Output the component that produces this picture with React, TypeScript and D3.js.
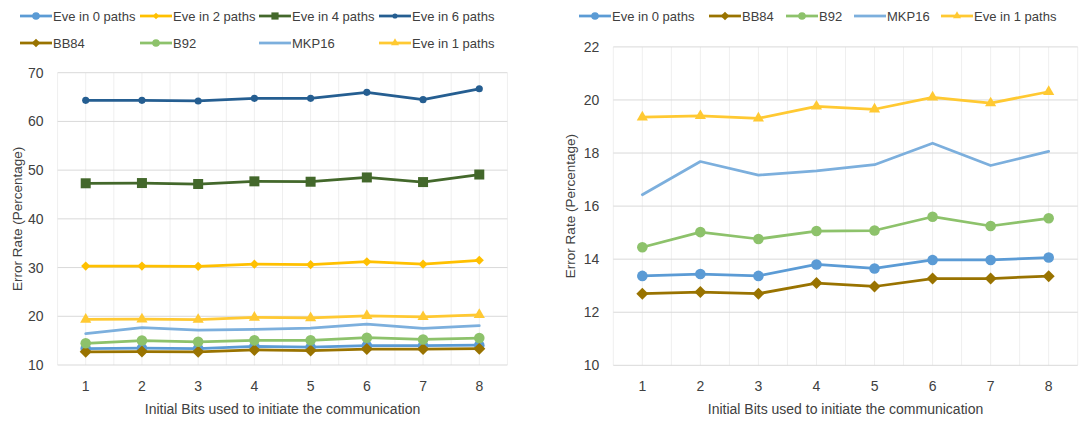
import React from "react";
import * as d3 from "d3";

// Initial bits (x categories)
const bits = [1, 2, 3, 4, 5, 6, 7, 8];

// Error rate (%) per series
const eve0 = [13.37, 13.44, 13.37, 13.8, 13.65, 13.97, 13.97, 14.06];
const eve2 = [30.3, 30.3, 30.25, 30.7, 30.6, 31.2, 30.7, 31.5];
const eve4 = [47.3, 47.35, 47.15, 47.7, 47.62, 48.5, 47.55, 49.1];
const eve6 = [64.33, 64.33, 64.2, 64.74, 64.74, 65.97, 64.46, 66.7];
const bb84 = [12.7, 12.76, 12.7, 13.1, 12.97, 13.27, 13.27, 13.36];
const b92 = [14.45, 15.02, 14.76, 15.06, 15.08, 15.6, 15.25, 15.54];
const mkp16 = [16.43, 17.68, 17.17, 17.33, 17.56, 18.37, 17.53, 18.06];
const eve1 = [19.35, 19.4, 19.31, 19.76, 19.65, 20.1, 19.88, 20.31];

// Axis ticks
const leftTicks = [10, 20, 30, 40, 50, 60, 70];
const rightTicks = [10, 12, 14, 16, 18, 20, 22];

type Marker = "circle" | "smallCircle" | "square" | "diamond" | "bigDiamond" | "triangle" | "none";

interface Series {
  name: string;
  values: number[];
  color: string;
  marker: Marker;
}

const S_EVE0: Series = { name: "Eve in 0 paths", values: eve0, color: "#5B9BD5", marker: "circle" };
const S_EVE2: Series = { name: "Eve in 2 paths", values: eve2, color: "#FFC000", marker: "diamond" };
const S_EVE4: Series = { name: "Eve in 4 paths", values: eve4, color: "#43682B", marker: "square" };
const S_EVE6: Series = { name: "Eve in 6 paths", values: eve6, color: "#255E91", marker: "smallCircle" };
const S_BB84: Series = { name: "BB84", values: bb84, color: "#997300", marker: "bigDiamond" };
const S_B92: Series = { name: "B92", values: b92, color: "#8DC26B", marker: "circle" };
const S_MKP16: Series = { name: "MKP16", values: mkp16, color: "#7CAFDD", marker: "none" };
const S_EVE1: Series = { name: "Eve in 1 paths", values: eve1, color: "#FFC932", marker: "triangle" };

const FONT = "'Liberation Sans', Arial, sans-serif";
const TEXT = "#404040";

function markerPath(m: Marker, scale = 1): string | null {
  switch (m) {
    case "circle":
      return d3.symbol(d3.symbolCircle, 88 * scale * scale)()!;
    case "smallCircle":
      return d3.symbol(d3.symbolCircle, 40 * scale * scale)()!;
    case "square":
      return d3.symbol(d3.symbolSquare, 100 * scale * scale)()!;
    case "diamond":
      return d3.symbol(d3.symbolSquare, 42 * scale * scale)()!;
    case "bigDiamond":
      return d3.symbol(d3.symbolSquare, 72 * scale * scale)()!;
    case "triangle":
      return d3.symbol(d3.symbolTriangle, 54 * scale * scale)()!;
    default:
      return null;
  }
}

function markerRotate(m: Marker) {
  return m === "diamond" || m === "bigDiamond" ? 45 : 0;
}

interface ChartProps {
  series: Series[];
  left: number;
  right: number;
  top: number;
  bottom: number;
  domain: [number, number];
  ticks: number[];
  yTitleX: number;
}

function Chart({ series, left, right, top, bottom, domain, ticks, yTitleX }: ChartProps) {
  const x = d3.scaleLinear().domain([0.5, 8.5]).range([left, right]);
  const y = d3.scaleLinear().domain(domain).range([bottom, top]);
  const line = d3
    .line<number>()
    .x((_, i) => x(bits[i]))
    .y((v) => y(v));
  const halfSteps = d3.range(0.5, 8.51, 0.5);
  return (
    <g>
      {halfSteps.map((h) => (
        <line key={"v" + h} x1={x(h)} x2={x(h)} y1={y(domain[1])} y2={y(domain[0])} stroke="#EFEFEF" strokeWidth={1} />
      ))}
      {ticks.map((t) => (
        <line key={"h" + t} x1={left} x2={right} y1={y(t)} y2={y(t)} stroke="#D9D9D9" strokeWidth={1} />
      ))}
      {ticks.map((t) => (
        <text key={"t" + t} x={left - 14} y={y(t) + 5} textAnchor="end" fontSize={14} fill={TEXT} fontFamily={FONT}>
          {t}
        </text>
      ))}
      {bits.map((b) => (
        <text key={"b" + b} x={x(b)} y={391} textAnchor="middle" fontSize={14} fill={TEXT} fontFamily={FONT}>
          {b}
        </text>
      ))}
      <text x={(left + right) / 2} y={414} textAnchor="middle" fontSize={14} fill={TEXT} fontFamily={FONT}>
        Initial Bits used to initiate the communication
      </text>
      <text
        transform={`translate(${yTitleX},${(y(domain[0]) + y(domain[1])) / 2}) rotate(-90)`}
        textAnchor="middle"
        dy={4.5}
        fontSize={13.5}
        fill={TEXT}
        fontFamily={FONT}
      >
        Error Rate (Percentage)
      </text>
      {series.map((s) => {
        const mp = markerPath(s.marker);
        return (
          <g key={s.name}>
            <path d={line(s.values)!} fill="none" stroke={s.color} strokeWidth={2.75} strokeLinejoin="round" strokeLinecap="round" />
            {mp &&
              s.values.map((v, i) => (
                <path
                  key={i}
                  d={mp}
                  fill={s.color}
                  transform={`translate(${x(bits[i])},${y(v)}) rotate(${markerRotate(s.marker)})`}
                />
              ))}
          </g>
        );
      })}
    </g>
  );
}

function LegendItem({ s, x, y }: { s: Series; x: number; y: number }) {
  const mp = markerPath(s.marker, 0.72);
  return (
    <g>
      <line x1={x} x2={x + 32} y1={y} y2={y} stroke={s.color} strokeWidth={2.75} />
      {mp && <path d={mp} fill={s.color} transform={`translate(${x + 16},${y}) rotate(${markerRotate(s.marker)})`} />}
      <text x={x + 33} y={y + 4.5} fontSize={13} fill={TEXT} fontFamily={FONT}>
        {s.name}
      </text>
    </g>
  );
}

export default function App() {
  const leftLegend: [Series, number, number][] = [
    [S_EVE0, 20, 16],
    [S_EVE2, 140, 16],
    [S_EVE4, 259, 16],
    [S_EVE6, 379, 16],
    [S_BB84, 20, 43],
    [S_B92, 140, 43],
    [S_MKP16, 259, 43],
    [S_EVE1, 379, 43],
  ];
  const rightLegend: [Series, number, number][] = [
    [S_EVE0, 579, 16],
    [S_BB84, 709, 16],
    [S_B92, 786, 16],
    [S_MKP16, 854, 16],
    [S_EVE1, 941, 16],
  ];
  return (
    <svg
      width={1079}
      height={421}
      viewBox="0 0 1079 421"
      style={{ position: "absolute", left: 0, top: 0, background: "#fff" }}
    >
      <rect width={1079} height={421} fill="#fff" />
      <Chart
        series={[S_EVE0, S_EVE2, S_EVE4, S_EVE6, S_BB84, S_B92, S_MKP16, S_EVE1]}
        left={57.6}
        right={507.4}
        top={72.7}
        bottom={365}
        domain={[10, 70]}
        ticks={leftTicks}
        yTitleX={17}
      />
      <Chart
        series={[S_EVE0, S_BB84, S_B92, S_MKP16, S_EVE1]}
        left={613.3}
        right={1077.7}
        top={46.9}
        bottom={365.3}
        domain={[10, 22]}
        ticks={rightTicks}
        yTitleX={570}
      />
      {leftLegend.map(([s, x, y]) => (
        <LegendItem key={"l" + s.name} s={s} x={x} y={y} />
      ))}
      {rightLegend.map(([s, x, y]) => (
        <LegendItem key={"r" + s.name} s={s} x={x} y={y} />
      ))}
    </svg>
  );
}
